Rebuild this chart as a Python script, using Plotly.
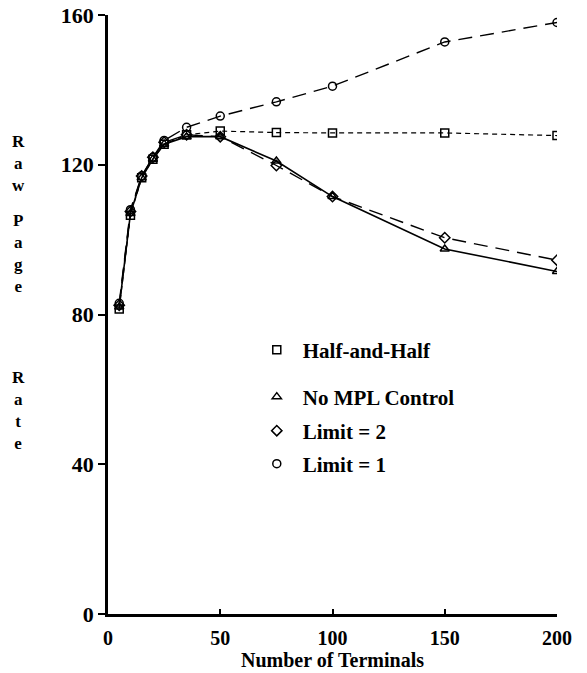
import plotly.graph_objects as go

terminals = [5, 10, 15, 20, 25, 35, 50, 75, 100, 150, 200]
half_and_half = [81.5, 106.5, 116.5, 121.5, 125.5, 128.0, 129.0, 128.6, 128.5, 128.5, 127.8]
no_mpl_control = [82.0, 107.0, 116.5, 121.5, 125.5, 127.5, 127.5, 121.0, 111.5, 97.5, 91.5]
limit_2 = [82.5, 107.5, 117.0, 122.0, 126.0, 128.0, 127.5, 119.8, 111.5, 100.5, 94.5]
limit_1 = [83.0, 108.0, 117.0, 122.0, 126.5, 130.0, 133.0, 136.8, 141.0, 152.8, 158.0]

series_names = ["Half-and-Half", "No MPL Control", "Limit = 2", "Limit = 1"]
series_values = [half_and_half, no_mpl_control, limit_2, limit_1]
symbols = ["square-open", "triangle-up-open", "diamond-open", "circle-open"]
dashes = ["5px,4px", "solid", "14px,8px", "14px,8px"]
widths = [1.2, 1.6, 1.4, 1.4]
legend_ids = ["legend", "legend2", "legend3", "legend4"]
legend_rows_px = [350, 397, 431, 464]   # vertical centres of legend rows (pixels from top)

x_ticks = [0, 50, 100, 150, 200]
y_ticks = [0, 40, 80, 120, 160]

FONT = "Liberation Serif"
PLOT_TOP, PLOT_BOTTOM = 15, 614
PLOT_H = PLOT_BOTTOM - PLOT_TOP

def py(px):
    return (PLOT_BOTTOM - px) / PLOT_H

fig = go.Figure()
for name, vals, sym, dash, lw in zip(series_names, series_values, symbols, dashes, widths):
    fig.add_trace(go.Scatter(
        x=terminals, y=vals, mode="lines+markers", name=name, showlegend=False,
        line=dict(color="black", width=lw, dash=dash),
        marker=dict(symbol=sym, size=8, color="black", line=dict(color="black", width=1.5)),
    ))
for name, sym, lg in zip(series_names, symbols, legend_ids):
    fig.add_trace(go.Scatter(
        x=[None], y=[None], mode="markers", name=name, legend=lg,
        marker=dict(symbol=sym, size=8, color="black", line=dict(color="black", width=1.5)),
    ))

legend_style = dict(
    xanchor="left", yanchor="middle", bgcolor="rgba(0,0,0,0)",
    itemwidth=42,
    font=dict(family=FONT, size=21, color="black", weight="bold"),
)
legends = {lg: dict(x=0.318, y=py(row), **legend_style) for lg, row in zip(legend_ids, legend_rows_px)}

fig.update_layout(
    width=587, height=673,
    margin=dict(l=108, r=30, t=PLOT_TOP, b=673 - PLOT_BOTTOM),
    paper_bgcolor="white", plot_bgcolor="white",
    font=dict(family=FONT, color="black", size=16),
    showlegend=True,
    xaxis=dict(
        range=[0, 200], tickvals=x_ticks, ticktext=[str(v) for v in x_ticks],
        showgrid=False, zeroline=False, showline=True, linecolor="black", linewidth=2.5,
        ticks="inside", ticklen=5, tickwidth=2, tickcolor="black",
        ticklabelstandoff=4,
        tickfont=dict(family=FONT, size=20, weight="bold"),
        title=dict(text="Number of Terminals", standoff=2,
                   font=dict(family=FONT, size=20, weight="bold")),
        automargin=False,
    ),
    yaxis=dict(
        range=[0, 160], tickvals=y_ticks, ticktext=[str(v) for v in y_ticks],
        showgrid=False, zeroline=False, showline=True, linecolor="black", linewidth=2.5,
        ticks="outside", ticklen=7, tickwidth=2, tickcolor="black",
        tickfont=dict(family=FONT, size=22, weight="bold"),
        automargin=False,
    ),
    annotations=[
        dict(text=word, xref="paper", yref="paper", x=-0.2, y=py(yc), showarrow=False,
             xanchor="center", yanchor="middle", align="center",
             font=dict(family=FONT, size=17, weight="bold"))
        for word, yc in [
            ("R<br>a<br>w", 163),
            ("P<br>a<br>g<br>e", 254),
            ("R<br>a<br>t<br>e", 410),
        ]
    ],
    **legends,
)

fig.write_html("out.html")
